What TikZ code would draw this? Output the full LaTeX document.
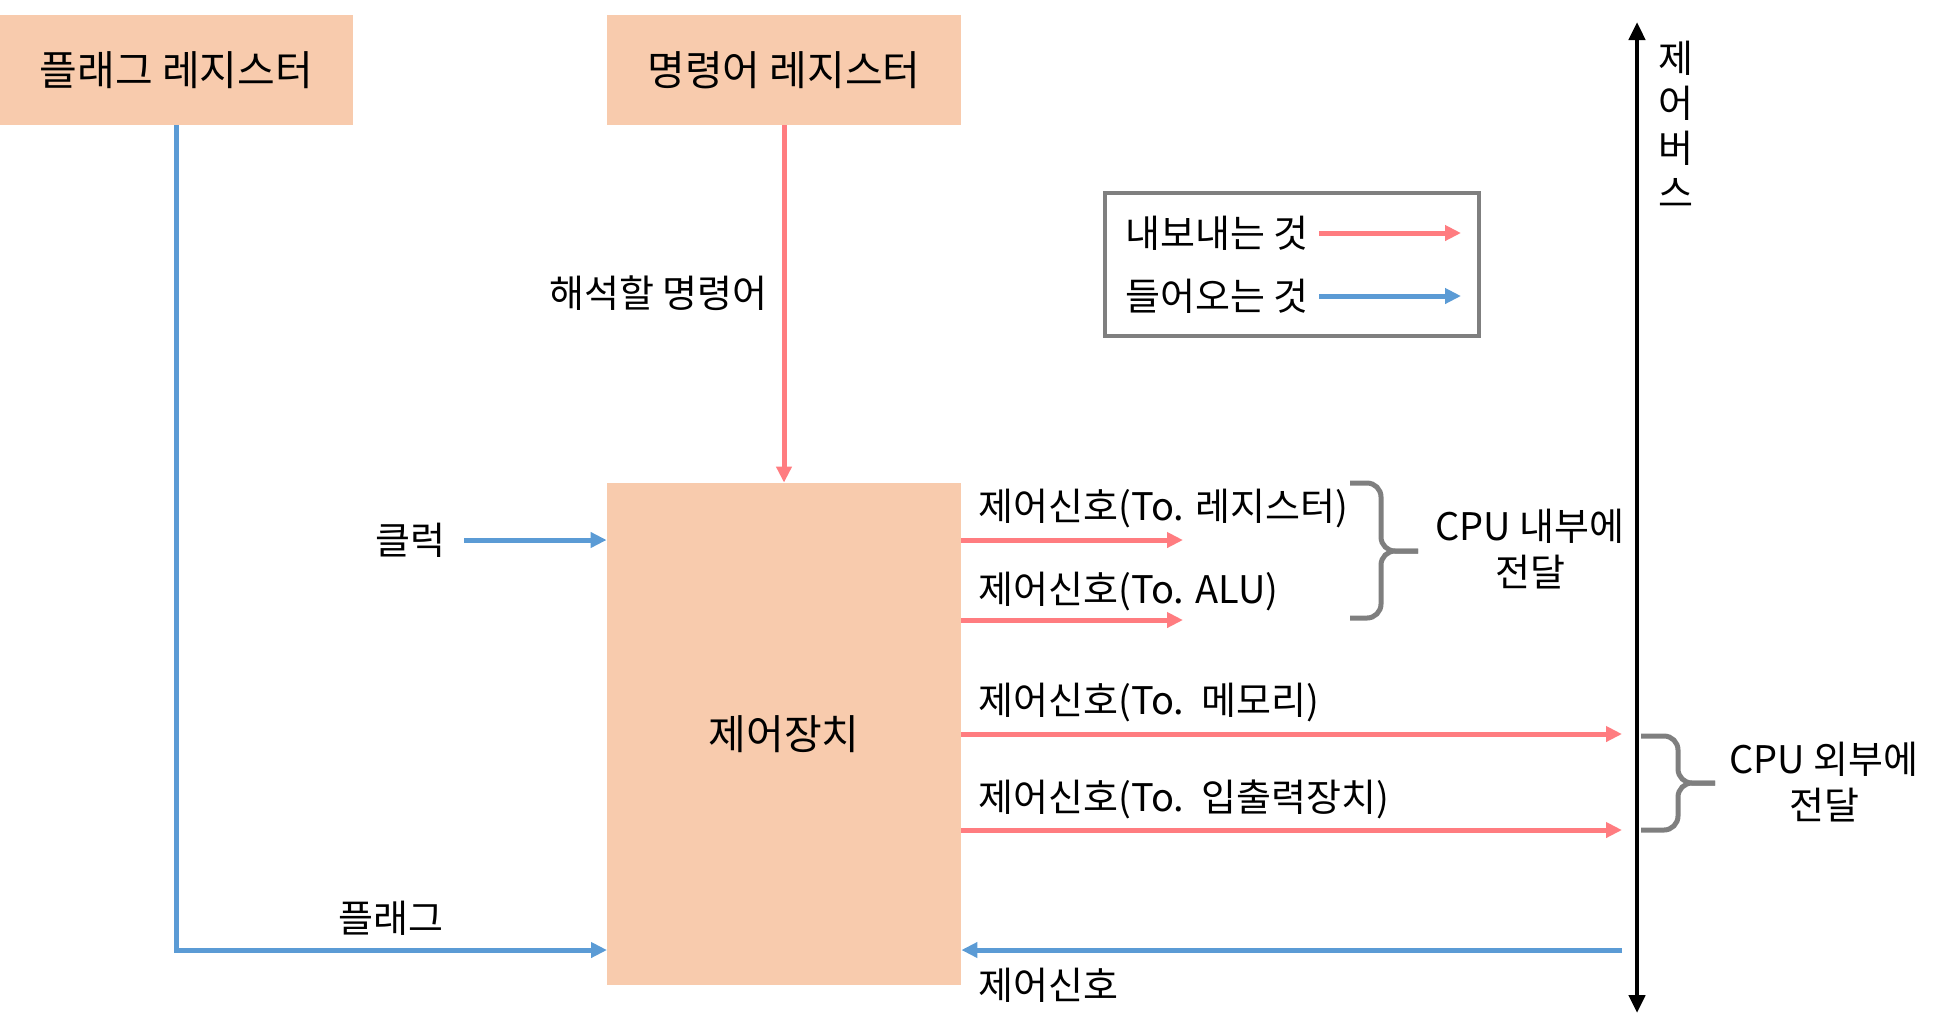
\documentclass[tikz,border=0pt]{standalone}
\usepackage{fontspec}
\setmainfont{Noto Sans CJK KR}
\usetikzlibrary{arrows.meta}

\definecolor{boxfill}{HTML}{F8CBAD}
\definecolor{sendred}{HTML}{FF7C80}
\definecolor{recvblue}{HTML}{5B9BD5}
\definecolor{bracegray}{HTML}{7F7F7F}

\tikzset{
  unitbox/.style={fill=boxfill, inner sep=0pt, font=\fontsize{20.5}{24}\selectfont},
  lbl/.style={inner sep=0pt, font=\fontsize{19}{23}\selectfont},
  sendarrow/.style={sendred, line width=2.5pt, -{Triangle[length=8pt,width=7.5pt]}},
  recvarrow/.style={recvblue, line width=2.5pt, -{Triangle[length=8pt,width=7.5pt]}},
  bracestyle/.style={bracegray, line width=2.5pt, rounded corners=7pt}
}

\begin{document}
\begin{tikzpicture}[x=0.5pt,y=-0.5pt]
  \useasboundingbox (0,0) rectangle (1942,1035);

  % Boxes
  \node[unitbox, minimum width=176.5pt, minimum height=55pt] (flagreg) at (176.5,70) {플래그 레지스터};
  \node[unitbox, minimum width=177pt, minimum height=55pt] (instreg) at (784,70) {명령어 레지스터};
  \node[unitbox, minimum width=177pt, minimum height=251pt] (cu) at (784,734) {제어장치};

  % Inputs on the left
  \node[lbl, anchor=east] (instlbl) at (768,293) {해석할 명령어};
  \draw[sendarrow] (instreg) -- (cu);
  \node[lbl, anchor=east] (clk) at (446,540) {클럭};
  \coordinate (clkstart) at (464,540);
  \draw[recvarrow] (clkstart) -- (cu.west |- clkstart);
  \coordinate (flagin) at (607,950);
  \draw[recvarrow] (flagreg.south) |- (flagin);
  \node[lbl] (flaglbl) at (391,918) {플래그};

  % Control bus
  \coordinate (bustop) at (1637,22);
  \coordinate (busbot) at (1637,1013);
  \draw[line width=2.2pt, {Triangle[length=9pt,width=8pt]}-{Triangle[length=9pt,width=8pt]}] (busbot) -- (bustop);
  \node[lbl, align=center, font=\fontsize{19}{22.5}\selectfont] (buslbl) at (1676,124) {제\\어\\버\\스};

  % Control signals out
  \coordinate (toreg) at (1183,540);
  \coordinate (toalu) at (1183,620);
  \coordinate (tomem) at (1622,734);
  \coordinate (toio) at (1622,830);
  \draw[sendarrow] (cu.east |- toreg) -- (toreg);
  \draw[sendarrow] (cu.east |- toalu) -- (toalu);
  \draw[sendarrow] (cu.east |- tomem) -- (tomem);
  \draw[sendarrow] (cu.east |- toio) -- (toio);
  \node[lbl, anchor=west] (regsig) at (978,508) {제어신호(To. 레지스터)};
  \node[lbl, anchor=west] (alusig) at (978,591) {제어신호(To. ALU)};
  \node[lbl, anchor=west] (memsig) at (978,702) {제어신호(To.\ \ 메모리)};
  \node[lbl, anchor=west] (iosig) at (978,799) {제어신호(To.\ \ 입출력장치)};

  % Control signal in
  \coordinate (frombus) at (1622,950);
  \draw[recvarrow] (frombus) -- (cu.east |- frombus);
  \node[lbl, anchor=west] (insig) at (978,985) {제어신호};

  % Braces
  \coordinate (intip) at (1418,551);
  \draw[bracestyle] (1350,483) -- (1381,483) -- (1381,551) -- (intip);
  \draw[bracestyle] (1350,618) -- (1381,618) -- (1381,551) -- (intip);
  \node[lbl, align=center] (inner) at (1530,549) {CPU 내부에\\전달};
  \coordinate (outtip) at (1715,783);
  \draw[bracestyle] (1641,736) -- (1678,736) -- (1678,783) -- (outtip);
  \draw[bracestyle] (1641,830) -- (1678,830) -- (1678,783) -- (outtip);
  \node[lbl, align=center] (outer) at (1824,782) {CPU 외부에\\전달};

  % Legend
  \node[draw=bracegray, line width=2pt, minimum width=187pt, minimum height=71.5pt, inner sep=0pt] (legend) at (1292,264.5) {};
  \node[lbl, anchor=west] (sendlbl) at (1125,233) {내보내는 것};
  \node[lbl, anchor=west] (recvlbl) at (1125,296) {들어오는 것};
  \coordinate (sendend) at (1461,233);
  \coordinate (recvend) at (1461,296);
  \draw[sendarrow] (1319,233) -- (sendend);
  \draw[recvarrow] (1319,296) -- (recvend);
\end{tikzpicture}
\end{document}
